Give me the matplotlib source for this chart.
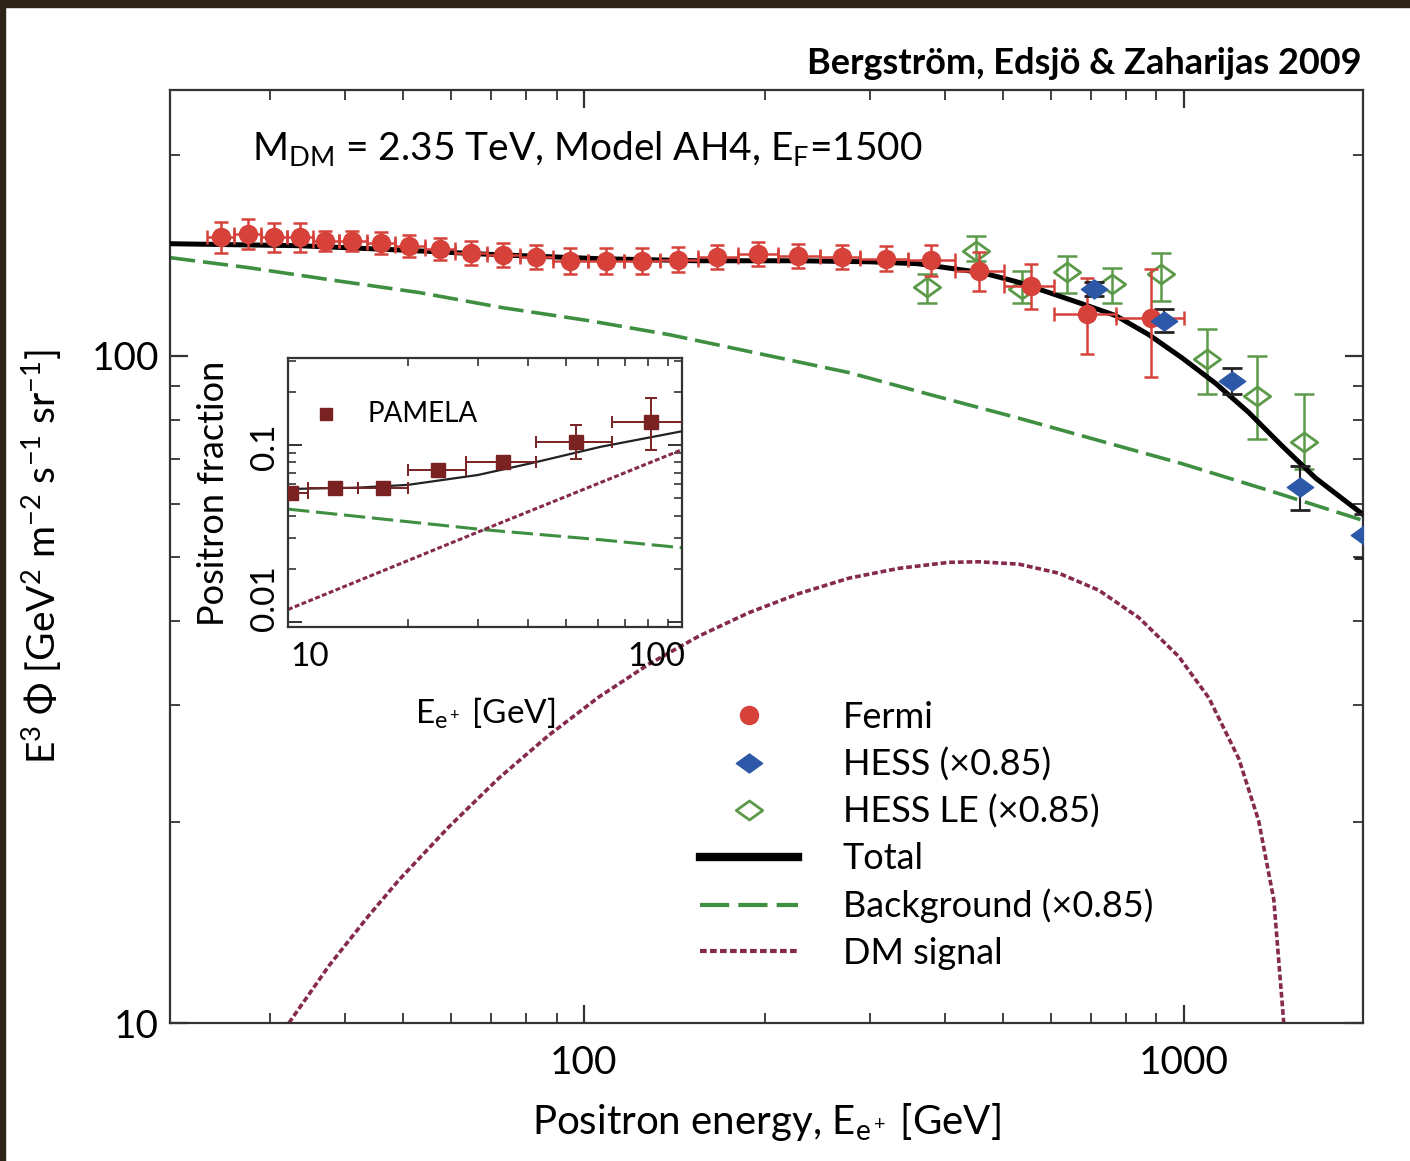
import numpy as np
import matplotlib.pyplot as plt
from matplotlib.path import Path
from matplotlib.lines import Line2D
from matplotlib.patches import Rectangle
from matplotlib.ticker import FixedLocator, NullFormatter, FuncFormatter, LogLocator

plt.rcParams['font.family'] = ['Lato', 'DejaVu Sans']
plt.rcParams['mathtext.fontset'] = 'custom'
plt.rcParams['mathtext.rm'] = 'Lato'
plt.rcParams['mathtext.it'] = 'Lato:italic'
plt.rcParams['mathtext.default'] = 'regular'

# ---- main panel data (GeV, E^3 flux) ----
fermi_E = [24.8, 27.5, 30.4, 33.6, 37.0, 41.1, 45.9, 51.1, 57.5, 64.8, 73.3, 83.2, 94.8,
           108.8, 124.9, 143.4, 166.7, 195.0, 227.4, 269.2, 318.6, 378.7, 455.2, 555.9, 689.2, 881.0]
fermi_F = [150.7, 152.2, 150.7, 150.7, 148.6, 148.6, 147.6, 146.1, 144.6, 142.6, 141.6, 140.6, 138.7,
           138.7, 138.7, 139.2, 140.6, 142.1, 141.1, 140.6, 139.7, 139.2, 134.0, 127.3, 115.6, 114.0]
fermi_err = [8.0, 8.0, 7.5, 7.5, 5.0, 5.0, 5.5, 5.5, 5.5, 6.0, 6.0, 6.0, 6.0,
             6.0, 6.0, 6.0, 6.0, 6.0, 6.0, 6.0, 6.0, 7.4, 9.0, 10.0, 15.0, 21.0]
fermi_edges = [23.5, 26.1, 28.9, 32.0, 35.3, 39.0, 43.4, 48.4, 54.2, 61.0, 68.9, 78.1, 88.8,
               101.6, 116.6, 133.8, 154.6, 180.3, 210.6, 247.4, 289, 347, 416, 501, 607, 770, 1000]

hess_E = [708, 926, 1202, 1565, 1995]
hess_F = [125.9, 112.8, 91.7, 63.5, 53.8]
hess_err = [3.0, 4.5, 4.0, 4.8, 4.0]

hessle_E = [373, 450, 537, 639, 759, 915, 1094, 1325, 1585]
hessle_F = [126.6, 143.6, 126.0, 133.3, 128.1, 132.5, 98.9, 87.1, 74.2]
hessle_lo = [120.0, 138.8, 120.0, 124.3, 120.0, 120.9, 87.7, 75.1, 67.7]
hessle_hi = [132.7, 151.2, 134.0, 141.1, 135.4, 142.6, 109.7, 99.7, 87.7]

total_E = [20.4, 33.5, 49, 72, 106, 155, 228, 300, 360, 461, 525, 596, 676, 770, 874, 992,
           1131, 1283, 1457, 1660, 1990]
total_F = [147.1, 146.1, 144.0, 141.6, 139.7, 138.7, 138.7, 138.2, 137.3, 133.1, 129.1, 124.3,
           119.6, 114.8, 107.5, 99.3, 90.8, 82.2, 73.3, 65.5, 57.8]

bg_E = [20.4, 27.65, 38.6, 53.1, 73.0, 101.9, 138.6, 195.7, 276.5, 383.1, 525, 721.8, 992,
        1385.6, 1995]
bg_F = [140.2, 135.4, 129.5, 124.3, 118.0, 112.8, 107.5, 100.7, 94.3, 87.1, 80.8, 74.6, 68.9,
        62.8, 56.6]

dm_E = [32.2, 37.6, 43.8, 49.2, 59.6, 72.2, 87.4, 105.9, 128.3, 155.5, 188.4, 228.2, 276.5, 335,
        405.8, 455.2, 530.9, 619.0, 721.8, 841.4, 981.0, 1101, 1235, 1333, 1413, 1468]
dm_F = [10.0, 12.2, 14.5, 16.4, 19.7, 23.3, 27.0, 30.8, 34.5, 38.0, 41.2, 44.0, 46.4, 48.0,
        49.0, 49.1, 48.7, 47.2, 44.5, 40.5, 35.4, 30.7, 24.9, 20.1, 15.3, 10.0]

# ---- inset data (positron fraction) ----
pam_E = [10.2, 13.1, 17.3, 23.8, 34.6, 52.7, 81.5]
pam_f = [0.0535, 0.0571, 0.0571, 0.0724, 0.0806, 0.1043, 0.1352]
pam_lo = [0.051, 0.055, 0.055, 0.069, 0.076, 0.083, 0.094]
pam_hi = [0.056, 0.059, 0.059, 0.076, 0.086, 0.129, 0.184]
pam_edges_lo = [9.1, 11.2, 15, 20, 28, 42, 65]
pam_edges_hi = [11.2, 15, 20, 28, 42, 65, 100]

in_tot_E = [10, 15, 20, 30, 41, 61, 98]
in_tot_f = [0.0565, 0.0575, 0.0596, 0.0678, 0.0792, 0.0978, 0.1199]
in_bg_E = [10, 31, 61, 98]
in_bg_f = [0.0435, 0.0333, 0.0292, 0.0263]
in_dm_E = [10, 31, 98]
in_dm_f = [0.0118, 0.0333, 0.0946]

red = '#d6413a'
blue = '#2d58a8'
olive = '#5c9a4a'
bgreen = '#3f8f42'
dmcol = '#86294f'
pamcol = '#7a2222'

W, H = 1410, 1161

# flattened diamond
flat_d = Path([(-1, 0), (0, 0.72), (1, 0), (0, -0.72), (-1, 0)],
              [Path.MOVETO, Path.LINETO, Path.LINETO, Path.LINETO, Path.CLOSEPOLY])

fig = plt.figure(figsize=(14.1, 11.61), dpi=100)
fig.patch.set_facecolor('white')
fig.add_artist(Rectangle((0, 1 - 7 / H), 1, 7 / H, transform=fig.transFigure,
                         color='#2e2518', zorder=-5))
fig.add_artist(Rectangle((0, 0), 5 / W, 1, transform=fig.transFigure,
                         color='#2e2518', zorder=-5))


def ftext(x, y, s, **kw):
    # place text by pixel position measured from the top-left corner
    return fig.text(x / W, 1 - y / H, s, **kw)


ax = fig.add_axes([170 / W, 138 / H, 1193 / W, 933 / H])
ax.set_xscale('log')
ax.set_yscale('log')
ax.set_xlim(20.4, 1990)
ax.set_ylim(10, 250)

E = np.array(fermi_E)
edges = np.array(fermi_edges)
ax.errorbar(fermi_E, fermi_F, yerr=fermi_err, xerr=[E - edges[:-1], edges[1:] - E],
            fmt='o', color=red, ms=13, elinewidth=1.8, capsize=5, capthick=1.8, zorder=4)
ax.errorbar(hess_E, hess_F, yerr=hess_err, fmt='none', ecolor='#222222', elinewidth=1.5,
            capsize=7, capthick=2, zorder=4)
ax.plot(hess_E, hess_F, ls='none', marker=flat_d, ms=19, color=blue, zorder=5)
hl = np.array(hessle_F)
ax.errorbar(hessle_E, hessle_F, yerr=[hl - np.array(hessle_lo), np.array(hessle_hi) - hl],
            fmt='none', ecolor=olive, elinewidth=1.8, capsize=7, capthick=1.8, zorder=3)
ax.plot(hessle_E, hessle_F, ls='none', marker=flat_d, ms=19, mfc='none', mec=olive, mew=2, zorder=3)

ax.plot(total_E, total_F, color='black', lw=3.6, zorder=3)
ax.plot(bg_E, bg_F, color=bgreen, lw=2.6, ls=(0, (7, 2.2)), zorder=2)
ax.plot(dm_E, dm_F, color=dmcol, lw=2.6, ls=(0, (1.6, 0.8)), zorder=2)

for sp in ax.spines.values():
    sp.set_linewidth(1.6)
    sp.set_color('#333333')
ax.xaxis.set_major_locator(FixedLocator([100, 1000]))
ax.yaxis.set_major_locator(FixedLocator([10, 100]))
ax.xaxis.set_minor_locator(LogLocator(base=10, subs=np.arange(2, 10)))
ax.yaxis.set_minor_locator(LogLocator(base=10, subs=np.arange(2, 10)))
fmt = FuncFormatter(lambda v, p: '%g' % v)
ax.xaxis.set_major_formatter(fmt)
ax.yaxis.set_major_formatter(fmt)
ax.xaxis.set_minor_formatter(NullFormatter())
ax.yaxis.set_minor_formatter(NullFormatter())
ax.tick_params(which='both', direction='in', top=True, right=True, color='#333333')
ax.tick_params(which='major', length=13, width=1.6, labelsize=28)
ax.tick_params(axis='x', which='major', pad=16)
ax.tick_params(axis='y', which='major', pad=8)
ax.tick_params(which='minor', length=7, width=1.3)

ax.set_xlabel(r'Positron energy, E$_{e^+}$ [GeV]', fontsize=29, labelpad=14)
ax.set_ylabel(r'E$^3$ $\Phi$ [GeV$^2$ m$^{-2}$ s$^{-1}$ sr$^{-1}$]', fontsize=28, labelpad=20)

ftext(252, 148, r'M$_{DM}$ = 2.35 TeV, Model AH4, E$_F$=1500', fontsize=28,
      va='center', ha='left')
ftext(1362, 63, 'Bergström, Edsjö & Zaharijas 2009', ha='right', va='center',
      fontsize=26, fontweight='bold')

handles = [
    Line2D([], [], ls='none', marker='o', ms=13, color=red),
    Line2D([], [], ls='none', marker=flat_d, ms=19, color=blue),
    Line2D([], [], ls='none', marker=flat_d, ms=19, mfc='none', mec=olive, mew=2),
    Line2D([], [], color='black', lw=6),
    Line2D([], [], color=bgreen, lw=3, ls=(0, (7, 2.2))),
    Line2D([], [], color=dmcol, lw=3, ls=(0, (1.6, 0.8))),
]
labels = ['Fermi', 'HESS (×0.85)', 'HESS LE (×0.85)', 'Total', 'Background (×0.85)', 'DM signal']
leg = ax.legend(handles, labels, loc='upper left', bbox_to_anchor=(700 / W, 1 - 701 / H),
                bbox_transform=fig.transFigure, frameon=False, fontsize=26, handlelength=2.7,
                handletextpad=1.25, labelspacing=0.37, borderpad=0, borderaxespad=0)

# ---- inset ----
ai = fig.add_axes([288 / W, 1 - 627 / H, 394 / W, 269 / H])
ai.set_xscale('log')
ai.set_yscale('log')
ai.set_xlim(10, 97.5)
ai.set_ylim(0.0094, 0.31)
pf = np.array(pam_f)
pe = np.array(pam_E)
ai.errorbar(pam_E, pam_f, yerr=[pf - np.array(pam_lo), np.array(pam_hi) - pf],
            xerr=[pe - np.array(pam_edges_lo), np.array(pam_edges_hi) - pe],
            fmt='s', color=pamcol, ms=10, elinewidth=1.4, capsize=4, capthick=1.4, zorder=4)
ai.plot(in_tot_E, in_tot_f, color='#222222', lw=1.6, zorder=3)
ai.plot(in_bg_E, in_bg_f, color=bgreen, lw=2.2, ls=(0, (7, 2.2)), zorder=2)
ai.plot(in_dm_E, in_dm_f, color=dmcol, lw=2.2, ls=(0, (1.6, 0.8)), zorder=2)
for sp in ai.spines.values():
    sp.set_linewidth(1.6)
    sp.set_color('#333333')
ai.xaxis.set_major_locator(FixedLocator([10, 100]))
ai.yaxis.set_major_locator(FixedLocator([0.01, 0.1]))
ai.xaxis.set_minor_locator(LogLocator(base=10, subs=np.arange(2, 10)))
ai.yaxis.set_minor_locator(LogLocator(base=10, subs=np.arange(2, 10)))
for a in (ai.xaxis, ai.yaxis):
    a.set_major_formatter(NullFormatter())
    a.set_minor_formatter(NullFormatter())
ai.tick_params(which='both', direction='in', top=True, right=True, color='#333333')
ai.tick_params(which='major', length=10, width=1.4)
ai.tick_params(which='minor', length=6, width=1.2)

ftext(310, 657, '10', fontsize=24, ha='center', va='center')
ftext(656, 657, '100', fontsize=24, ha='center', va='center')
ftext(265, 447, '0.1', fontsize=24, ha='center', va='center', rotation=90)
ftext(265, 598, '0.01', fontsize=24, ha='center', va='center', rotation=90)
ftext(213, 493, 'Positron fraction', fontsize=26, ha='center', va='center', rotation=90)
ftext(485, 713, r'E$_{e^+}$ [GeV]', fontsize=24, ha='center', va='center')
fig.add_artist(Line2D([326 / W], [1 - 414 / H], transform=fig.transFigure, ls='none',
                      marker='s', ms=9, color=pamcol))
ftext(367, 414, 'PAMELA', fontsize=20, ha='left', va='center')

fig.savefig('out.png', dpi=100)
